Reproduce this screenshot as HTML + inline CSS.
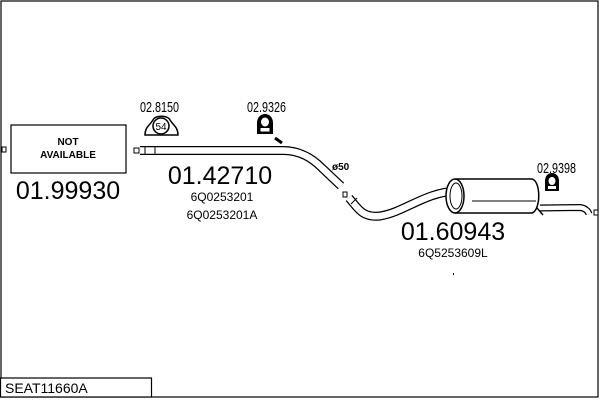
<!DOCTYPE html>
<html><head><meta charset="utf-8"><style>
body{margin:0;background:#fff}
svg{display:block}
text{font-family:"Liberation Sans",sans-serif;fill:#000}
</style></head><body>
<svg width="600" height="400" viewBox="0 0 600 400" xmlns="http://www.w3.org/2000/svg">
<rect x="1" y="1" width="597" height="396" fill="none" stroke="#000" stroke-width="1.2"/>
<rect x="0.5" y="378" width="151" height="19" fill="#fff" stroke="#000" stroke-width="1.2"/>
<text x="5" y="393" font-size="14">SEAT11660A</text>
<rect x="2" y="147" width="4" height="5" fill="#fff" stroke="#000"/>
<rect x="594" y="210" width="4" height="5" fill="#fff" stroke="#000"/>
<rect x="11" y="125" width="115" height="48" fill="#fff" stroke="#000" stroke-width="1.2"/>
<text x="68" y="145" font-size="10" font-weight="bold" text-anchor="middle">NOT</text>
<text x="68" y="158" font-size="10" font-weight="bold" text-anchor="middle">AVAILABLE</text>
<text x="68" y="199" font-size="25" text-anchor="middle">01.99930</text>
<rect x="134" y="148" width="5" height="5" fill="#fff" stroke="#000"/>
<path d="M140,150.5 L283,150.5 C300,150.5 312,158 322,168 L341,186" fill="none" stroke="#000" stroke-width="9"/>
<path d="M140,150.5 L283,150.5 C300,150.5 312,158 322,168 L341,186" fill="none" stroke="#fff" stroke-width="6.5"/>
<line x1="145" y1="146.5" x2="145" y2="154.5" stroke="#000"/>
<line x1="155" y1="146.5" x2="155" y2="154.5" stroke="#000"/>
<line x1="275" y1="138" x2="282" y2="143" stroke="#000" stroke-width="3"/>
<text x="332" y="170" font-size="10" font-weight="bold">ø50</text>
<text transform="translate(140,112) scale(0.72,1)" font-size="15">02.8150</text>
<path d="M145,135 C145,127 150,125 153,120 C155,115 168,115 170,120 C173,125 178,127 178,135 L145,135 Z" fill="#fff" stroke="#000" stroke-width="1.5"/>
<ellipse cx="161" cy="126" rx="8" ry="8" fill="#fff" stroke="#000" stroke-width="1.5"/>
<text x="161" y="130" font-size="10" text-anchor="middle">54</text>
<text transform="translate(247,112) scale(0.72,1)" font-size="15">02.9326</text>
<path d="M257,134 L257,123 C257,117 261,114 265,114 C269,114 273,117 273,123 L273,134 Z" fill="#000"/>
<ellipse cx="265" cy="122" rx="4" ry="4.5" fill="#fff"/>
<rect x="260.5" y="128" width="9" height="3.5" fill="#fff"/>
<text x="220" y="184" font-size="25" text-anchor="middle">01.42710</text>
<text x="222" y="201" font-size="12" text-anchor="middle">6Q0253201</text>
<text x="222" y="219" font-size="12" text-anchor="middle">6Q0253201A</text>
<rect x="343" y="192" width="4" height="5" fill="#fff" stroke="#000"/>
<path d="M349,198 C358,208 362,218 380,216 C405,212 425,192 457,191" fill="none" stroke="#000" stroke-width="9"/>
<path d="M349,198 C358,208 362,218 380,216 C405,212 425,192 457,191" fill="none" stroke="#fff" stroke-width="6.5"/>
<line x1="351" y1="204" x2="357" y2="198" stroke="#000"/>
<path d="M540,208 L580,207.5 C585,208 588,211 589,214" fill="none" stroke="#000" stroke-width="7"/>
<path d="M540,208 L580,207.5 C585,208 588,211 589,214" fill="none" stroke="#fff" stroke-width="4.5"/>
<path d="M455,179 L532,179 C541,181 541,210 532,213 L455,213" fill="#fff" stroke="#000" stroke-width="1.5"/>
<ellipse cx="455" cy="196" rx="9" ry="17" fill="#fff" stroke="#000" stroke-width="1.5"/>
<ellipse cx="456" cy="196" rx="6" ry="13" fill="none" stroke="#000" stroke-width="1"/>
<line x1="472" y1="201" x2="536" y2="201" stroke="#000"/>
<line x1="537" y1="208" x2="543" y2="215" stroke="#000" stroke-width="1.5"/>
<text transform="translate(537,173) scale(0.72,1)" font-size="15">02.9398</text>
<path d="M545,191 L545,181 C545,176 548,173 552,173 C556,173 559,176 559,181 L559,191 Z" fill="#000"/>
<ellipse cx="552" cy="181" rx="3.5" ry="4" fill="#fff"/>
<rect x="548" y="186" width="8" height="3" fill="#fff"/>
<text x="453" y="240" font-size="25" text-anchor="middle">01.60943</text>
<text x="453" y="257" font-size="12" text-anchor="middle">6Q5253609L</text>
<rect x="453" y="273" width="1" height="2" fill="#000"/>
</svg>
</body></html>
